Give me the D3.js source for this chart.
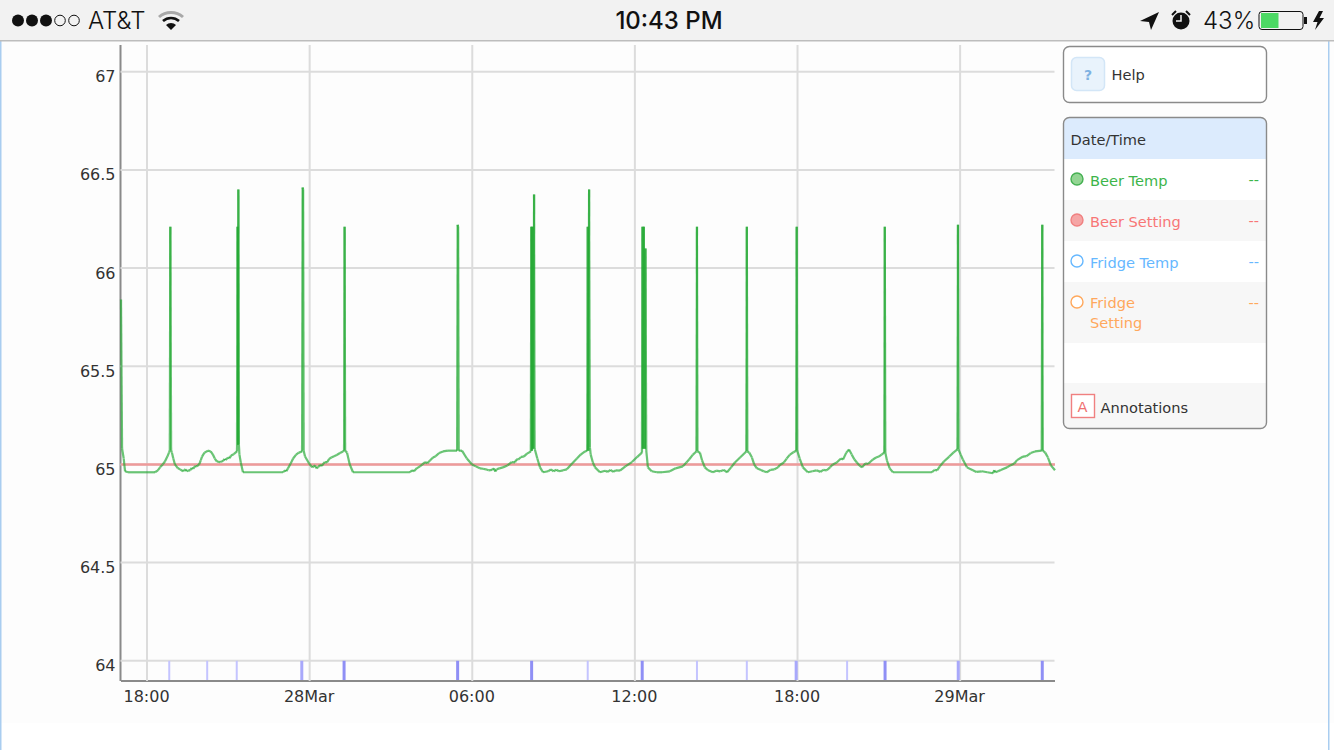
<!DOCTYPE html>
<html>
<head>
<meta charset="utf-8">
<script src="https://cdn.jsdelivr.net/npm/d3@7"></script>
<style>
  html, body { margin: 0; padding: 0; background: #fff; overflow: hidden; }
  svg { display: block; }
  text { font-family: "DejaVu Sans", sans-serif; }
  .status text { font-family: "Inter", "Liberation Sans", sans-serif; fill: #111; }
</style>
</head>
<body>
<svg id="chart" width="1334" height="750"></svg>
<script>
// [hours after 18:00 on 27 Mar, degrees]
const beerTemp = [
  [-0.96,65.84],[-0.92,65.08],[-0.86,65.03],[-0.81,64.965],[-0.7,64.96],[0.295,64.96],[0.4,64.97],[0.48,64.985],[0.58,65.0],[0.66,65.015],[0.75,65.04],[0.81,65.06],[0.84,65.07],[0.86,66.21],[0.89,65.07],[0.92,65.06],
  [0.97,65.03],[1.03,65.0],[1.14,64.98],[1.22,64.975],[1.33,64.965],[1.38,64.972],[1.42,64.975],[1.46,64.965],[1.5,64.968],[1.59,64.97],[1.65,64.982],[1.7,64.978],[1.78,64.992],[1.84,64.99],[1.93,65.002],[1.98,65.02],[2.03,65.04],[2.12,65.06],[2.25,65.07],[2.35,65.066],[2.43,65.05],[2.5,65.03],[2.58,65.015],
  [2.7,65.012],[2.8,65.017],[2.86,65.028],[2.9,65.022],[2.99,65.035],[3.05,65.032],[3.1,65.045],[3.2,65.052],[3.32,65.066],[3.34,66.21],[3.36,65.1],[3.37,66.4],[3.39,65.1],[3.41,65.05],[3.46,65.01],[3.54,64.96],[5.02,64.96],[5.1,64.97],[5.14,64.965],[5.2,64.98],
  [5.3,65.005],[5.39,65.03],[5.5,65.05],[5.6,65.06],[5.72,65.066],[5.74,66.41],[5.76,66.4],[5.78,65.07],[5.83,65.04],[5.98,65.005],[6.1,64.985],[6.2,64.995],[6.25,64.98],[6.31,64.985],[6.38,64.998],[6.45,64.992],[6.55,65.012],[6.64,65.01],[6.72,65.028],[6.8,65.035],[6.9,65.042],[7.0,65.048],[7.12,65.058],[7.23,65.066],[7.27,65.07],[7.29,66.21],[7.31,65.07],[7.38,65.06],[7.48,65.0],[7.6,64.96],
  [9.7,64.96],[9.78,64.97],[9.85,64.965],[9.95,64.98],[10.07,64.99],[10.16,65.0],[10.26,65.012],[10.34,65.006],[10.44,65.02],[10.55,65.035],[10.65,65.042],[10.78,65.058],[10.92,65.066],[11.1,65.07],[11.44,65.07],[11.46,66.22],[11.48,66.21],[11.5,65.07],[11.62,65.07],[11.8,65.03],[11.99,65.0],[12.13,64.99],[12.28,64.98],[12.4,64.978],[12.5,64.975],[12.6,64.97],[12.73,64.972],[12.8,64.98],[12.85,64.964],[12.9,64.975],[13.0,64.98],[13.13,64.985],[13.3,64.995],[13.45,65.012],[13.58,65.01],[13.62,65.025],[13.7,65.025],[13.8,65.038],[13.9,65.04],[14.02,65.055],[14.16,65.066],[14.18,66.21],[14.2,65.07],[14.22,66.21],[14.25,65.08],[14.28,66.375],[14.3,65.08],[14.31,65.076],
  [14.4,65.03],[14.5,64.985],[14.61,64.96],[14.8,64.965],[14.9,64.975],[15.0,64.965],[15.1,64.973],[15.2,64.965],[15.35,64.97],[15.49,64.975],[15.65,65.0],[15.86,65.03],[16.0,65.05],[16.16,65.066],[16.24,65.07],[16.26,66.21],[16.28,65.07],[16.31,66.4],[16.34,65.087],[16.37,65.05],[16.45,65.01],[16.53,64.985],[16.71,64.96],[16.9,64.968],[17.0,64.962],[17.1,64.972],[17.2,64.962],[17.3,64.97],[17.45,64.968],[17.65,64.99],[17.89,65.012],[18.1,65.04],[18.26,65.06],[18.28,66.21],[18.3,65.08],[18.33,66.21],[18.37,65.08],[18.39,66.1],[18.42,65.07],[18.48,64.985],[18.62,64.965],[18.81,64.96],[19.0,64.96],[19.29,64.965],
  [19.5,64.98],[19.77,64.99],[19.9,65.01],[20.0,65.025],[20.14,65.05],[20.27,65.066],[20.29,66.21],[20.31,65.066],[20.4,65.06],[20.48,65.02],[20.58,64.985],[20.7,64.97],[20.88,64.96],[21.0,64.968],[21.15,64.965],[21.28,64.972],[21.4,64.96],[21.55,64.985],[21.69,65.01],[21.88,65.035],[22.11,65.066],[22.13,66.21],[22.15,65.066],[22.22,65.06],[22.32,65.035],[22.4,65.0],[22.5,64.98],[22.65,64.972],[22.75,64.965],[22.87,64.96],[23.0,64.972],[23.15,64.975],[23.28,64.985],[23.35,64.997],[23.5,65.01],[23.6,65.03],[23.72,65.05],[23.85,65.062],[23.95,65.07],[23.97,66.21],[23.99,65.07],[24.08,65.03],[24.2,64.985],[24.38,64.96],
  [24.55,64.965],[24.7,64.97],[24.85,64.962],[24.95,64.972],[25.08,64.97],[25.2,64.985],[25.3,65.0],[25.45,65.01],[25.6,65.03],[25.68,65.025],[25.8,65.06],[25.9,65.076],[26.0,65.05],[26.1,65.025],[26.19,65.01],[26.28,64.995],[26.38,64.985],[26.5,65.005],[26.6,65.002],[26.78,65.025],[26.9,65.035],[27.0,65.04],[27.1,65.05],[27.2,65.06],[27.22,66.21],[27.24,65.06],[27.3,65.02],[27.4,64.98],[27.52,64.96],[28.96,64.96],[29.05,64.972],[29.15,64.97],[29.25,64.99],[29.4,65.015],[29.6,65.04],[29.75,65.06],[29.9,65.076],[29.92,66.22],[29.94,65.076],[30.02,65.05],[30.1,65.025],[30.25,64.985],[30.47,64.97],[30.6,64.962],[30.8,64.965],[31.0,64.96],[31.21,64.955],[31.26,64.97],[31.3,64.96],[31.4,64.965],[31.5,64.972],[31.73,64.985],[31.85,64.995],[32.0,65.005],[32.1,65.022],[32.32,65.04],[32.45,65.042],[32.6,65.058],[32.76,65.066],[33.01,65.07],[33.03,66.22],[33.05,65.07],[33.14,65.06],[33.24,65.035],[33.35,64.995],[33.5,64.97]
];
const settingHours = [-0.96, 33.5];
const settingTemps = [65, 65];

// state changes along the bottom strip, with how many fall on each
const eventHours = [0.82, 2.22, 3.31, 5.71, 7.27, 11.46, 14.19, 16.26, 18.27, 20.29, 22.13, 23.95, 25.83, 27.23, 29.93, 33.03];
const eventCounts = [1, 1, 1, 2, 3, 3, 3, 1, 3, 1, 1, 2, 1, 3, 2, 3];

const yTicks = [64, 64.5, 65, 65.5, 66, 66.5, 67];
const yTickLabels = ['64', '64.5', '65', '65.5', '66', '66.5', '67'];
const xTicks = [0, 6, 12, 18, 24, 30];
const xTickLabels = ['18:00', '28Mar', '06:00', '12:00', '18:00', '29Mar'];

const legendNames = ['Beer Temp', 'Beer Setting', 'Fridge Temp', 'Fridge Setting'];
const legendValues = ['--', '--', '--', '--'];

const svg = d3.select('#chart');
const plot = { left: 121, right: 1055, top: 45, bottom: 681 };

const x = d3.scaleLinear().domain([-0.96, 33.5]).range([plot.left, plot.right]);
const y = d3.scaleLinear().domain([63.897, 67.136]).range([plot.bottom, plot.top]);

// --------- Page ---------
svg.append('rect').attr('y', 41).attr('width', 1334).attr('height', 682).attr('fill', '#fdfdfd');
svg.append('rect').attr('x', 0).attr('y', 41).attr('width', 1.5).attr('height', 709).attr('fill', '#a9cdf0');
svg.append('rect').attr('x', 1328).attr('y', 41).attr('width', 1.5).attr('height', 709).attr('fill', '#a9cdf0');

// --------- Axes and grid ---------
const xAxis = svg.append('g')
  .attr('transform', `translate(0,${plot.bottom})`)
  .call(d3.axisBottom(x).tickValues(xTicks).offset(0)
    .tickFormat((d, i) => xTickLabels[i])
    .tickSize(-(plot.bottom - plot.top)).tickSizeOuter(0));
xAxis.selectAll('.tick line').attr('stroke', '#dcdcdc').attr('stroke-width', 2);
xAxis.selectAll('.tick text')
  .attr('fill', '#333').attr('font-size', 16).attr('y', 10).attr('dx', -0.5)
  .style('font-family', '"DejaVu Sans", sans-serif');
xAxis.select('.domain').attr('stroke', '#8a8a8a').attr('stroke-width', 2);

const yAxis = svg.append('g')
  .attr('transform', `translate(${plot.left - 0.5},0)`)
  .call(d3.axisLeft(y).tickValues(yTicks).offset(0)
    .tickFormat((d, i) => yTickLabels[i])
    .tickSize(-(plot.right - plot.left)).tickSizeOuter(0));
yAxis.selectAll('.tick line').attr('stroke', '#dcdcdc').attr('stroke-width', 2);
yAxis.selectAll('.tick text')
  .attr('fill', '#333').attr('font-size', 16).attr('x', -5).attr('dy', '0.66em')
  .style('font-family', '"DejaVu Sans", sans-serif');
yAxis.select('.domain').attr('stroke', '#8a8a8a').attr('stroke-width', 2);

// --------- Series ---------
const line = d3.line().x(d => x(d[0])).y(d => y(d[1]));

svg.append('path')
  .datum(d3.zip(settingHours, settingTemps))
  .attr('d', line)
  .attr('fill', 'none').attr('stroke', '#ee9a9a').attr('stroke-width', 2.5);

// one line per step so the up and down strokes of a spike build up darker
svg.append('g').selectAll('line')
  .data(d3.pairs(beerTemp))
  .join('line')
  .attr('x1', d => x(d[0][0])).attr('y1', d => y(d[0][1]))
  .attr('x2', d => x(d[1][0])).attr('y2', d => y(d[1][1]))
  .attr('stroke', '#22a832').attr('stroke-width', 2.2)
  .attr('stroke-opacity', 0.68);

// Bottom strip of state changes
const eventColor = d3.scaleOrdinal().domain([1, 2, 3]).range(['#c4c4ff', '#a8a8fb', '#8f8ff5']);
svg.append('g').selectAll('line')
  .data(d3.zip(eventHours, eventCounts))
  .join('line')
  .attr('x1', d => x(d[0])).attr('x2', d => x(d[0]))
  .attr('y1', y(64)).attr('y2', plot.bottom - 1)
  .attr('stroke', d => eventColor(d[1]))
  .attr('stroke-width', d => d[1] === 1 ? 2 : 3);

// --------- Help box ---------
const help = svg.append('g');
help.append('rect').attr('x', 1063.5).attr('y', 46.5).attr('width', 203).attr('height', 56).attr('rx', 6)
  .attr('fill', '#fff').attr('stroke', '#8a8a8a').attr('stroke-width', 1.4);
help.append('rect').attr('x', 1071.5).attr('y', 57.5).attr('width', 33).attr('height', 33).attr('rx', 5)
  .attr('fill', '#e9f3fc').attr('stroke', '#d3e6f7').attr('stroke-width', 1.5);
help.append('text').attr('x', 1088).attr('y', 80).attr('text-anchor', 'middle')
  .attr('font-size', 14).attr('font-weight', 'bold').attr('fill', '#7fb2e2').text('?');
help.append('text').attr('x', 1111.5).attr('y', 80).attr('font-size', 14.6).attr('fill', '#333').text('Help');

// --------- Legend box ---------
const legendColors = ['#3cb54a', '#f87676', '#66b8ff', '#ffa85c'];
const dotFills = ['#93d593', '#f5a5a5', '#fff', '#fff'];
const dotStrokes = ['#45b052', '#f08080', '#66b8ff', '#ffa85c'];
const rowTops = [159, 200, 241, 282];

const legend = svg.append('g');
legend.append('rect').attr('x', 1063.5).attr('y', 117.5).attr('width', 203).attr('height', 311).attr('rx', 6)
  .attr('fill', '#fff');
legend.append('path').attr('d', 'M1064,159V124a6,6 0 0 1 6,-6H1260a6,6 0 0 1 6,6V159Z').attr('fill', '#dcebfd');
legend.append('rect').attr('x', 1064).attr('y', 200).attr('width', 202).attr('height', 41).attr('fill', '#f7f7f7');
legend.append('rect').attr('x', 1064).attr('y', 282).attr('width', 202).attr('height', 61).attr('fill', '#f7f7f7');
legend.append('path').attr('d', 'M1064,383V422a6,6 0 0 0 6,6H1260a6,6 0 0 0 6,-6V383Z').attr('fill', '#f7f7f7');
legend.append('rect').attr('x', 1063.5).attr('y', 117.5).attr('width', 203).attr('height', 311).attr('rx', 6)
  .attr('fill', 'none').attr('stroke', '#8a8a8a').attr('stroke-width', 1.4);
legend.append('text').attr('x', 1070.5).attr('y', 145).attr('font-size', 14.6).attr('fill', '#333').text('Date/Time');

const rows = legend.selectAll('g.row').data(legendNames).join('g').attr('class', 'row');
rows.append('circle')
  .attr('cx', 1077).attr('cy', (d, i) => rowTops[i] + 20).attr('r', 6)
  .attr('fill', (d, i) => dotFills[i]).attr('stroke', (d, i) => dotStrokes[i]).attr('stroke-width', 1.4);
rows.append('text')
  .attr('x', 1090).attr('y', (d, i) => i === 3 ? rowTops[i] + 26 : rowTops[i] + 27)
  .attr('font-size', 14.6).attr('fill', (d, i) => legendColors[i])
  .selectAll('tspan')
  .data(d => d === 'Fridge Setting' ? d.split(' ') : [d])
  .join('tspan')
  .attr('x', 1090).attr('dy', (d, i) => i ? 20 : 0)
  .text(d => d);
rows.append('text')
  .attr('x', 1259).attr('y', (d, i) => rowTops[i] + 26).attr('text-anchor', 'end')
  .attr('font-size', 14.6).attr('fill', (d, i) => legendColors[i])
  .text((d, i) => legendValues[i]);

legend.append('rect').attr('x', 1071.5).attr('y', 394.5).attr('width', 23).attr('height', 23)
  .attr('fill', '#fff').attr('stroke', '#f08080').attr('stroke-width', 1.4);
legend.append('text').attr('x', 1082.5).attr('y', 412).attr('text-anchor', 'middle')
  .attr('font-size', 14.6).attr('fill', '#f07070').text('A');
legend.append('text').attr('x', 1100.5).attr('y', 413).attr('font-size', 14.6).attr('fill', '#333').text('Annotations');

// --------- iOS status bar ---------
const status = svg.append('g').attr('class', 'status');
status.append('rect').attr('width', 1334).attr('height', 40).attr('fill', '#f2f2f2');
status.append('rect').attr('y', 40).attr('width', 1334).attr('height', 1.5).attr('fill', '#bdbdbd');

[18, 32, 46, 60, 74].forEach((cx, i) => {
  status.append('circle').attr('cx', cx).attr('cy', 20.5).attr('r', i < 3 ? 6 : 5.3)
    .attr('fill', i < 3 ? '#111' : 'none').attr('stroke', '#111').attr('stroke-width', i < 3 ? 0 : 1);
});
status.append('text').attr('x', 88).attr('y', 29).attr('font-size', 24).attr('font-weight', 300).text('AT&T');

// wifi
status.append('path').attr('d', 'M159,17 A18,18 0 0 1 183,17').attr('fill', 'none').attr('stroke', '#a8a8a8').attr('stroke-width', 3);
status.append('path').attr('d', 'M163,21 A12,12 0 0 1 179,21').attr('fill', 'none').attr('stroke', '#111').attr('stroke-width', 2.6);
status.append('path').attr('d', 'M166,25 L171,30 L176,25 A7,7 0 0 0 166,25Z').attr('fill', '#111');

status.append('text').attr('x', 669).attr('y', 29).attr('text-anchor', 'middle')
  .attr('font-size', 24).attr('font-weight', 500).text('10:43 PM');

// location arrow
status.append('path').attr('d', 'M1140,21 L1159,12 L1151,30 L1149,22Z').attr('fill', '#111');
// alarm clock
status.append('circle').attr('cx', 1181).attr('cy', 21).attr('r', 8.5).attr('fill', '#111');
status.append('path').attr('d', 'M1181,15 V21 H1176').attr('fill', 'none').attr('stroke', '#f2f2f2').attr('stroke-width', 1.5);
status.append('path').attr('d', 'M1172,15 L1176,11 M1190,15 L1186,11').attr('stroke', '#111').attr('stroke-width', 2);

status.append('text').attr('x', 1203).attr('y', 29).attr('font-size', 24).attr('font-weight', 300).text('43%');

// battery
status.append('rect').attr('x', 1259).attr('y', 11.5).attr('width', 44).attr('height', 18).attr('rx', 3)
  .attr('fill', 'none').attr('stroke', '#111').attr('stroke-width', 1);
status.append('rect').attr('x', 1261).attr('y', 13).attr('width', 17.5).attr('height', 15).attr('fill', '#4cd964');
status.append('rect').attr('x', 1304).attr('y', 17).attr('width', 3).attr('height', 7).attr('fill', '#111');
status.append('path').attr('d', 'M1319,11 L1313,22 H1317.5 L1315,30 L1324,18 H1319.5 L1323,11Z').attr('fill', '#111');
</script>
</body>
</html>
